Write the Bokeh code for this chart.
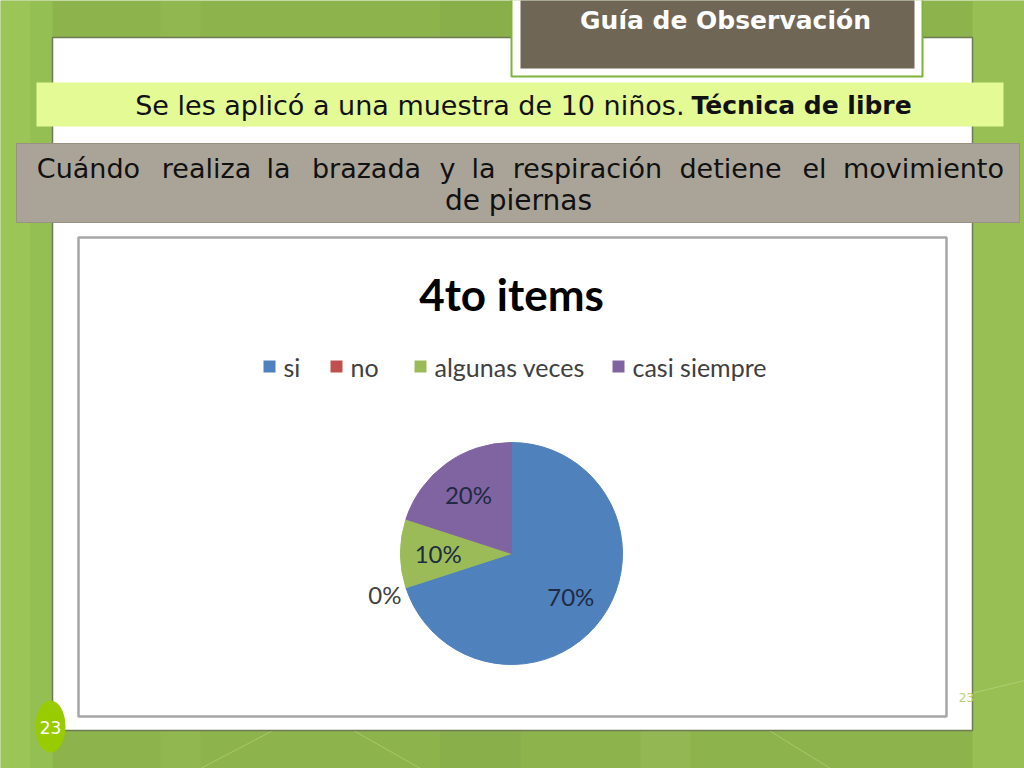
import math
from bokeh.plotting import figure
from bokeh.models import Range1d
from bokeh.core.properties import value
from bokeh.embed import file_html
from bokeh.resources import INLINE

# ---- data ----
categories = ["si", "no", "algunas veces", "casi siempre"]
percent = [70, 0, 10, 20]
colors = ["#4f81bd", "#c0504d", "#9bbb59", "#8064a2"]
chart_title = "4to items"
header = "Guía de Observación"
intro_normal = "Se les aplicó a una muestra de 10 niños."
intro_bold = "Técnica de libre"
question_words = ["Cuándo", "realiza", "la", "brazada", "y", "la", "respiración", "detiene", "el", "movimiento"]
question_word_x = [88, 206, 278, 366, 447, 483, 587, 730, 814, 923]
question_line2 = "de piernas"
slide_no = "23"

H = 768
def Y(y):
    return H - y

p = figure(width=1024, height=768, x_range=Range1d(0, 1024), y_range=Range1d(0, 768),
           output_backend="svg", toolbar_location=None, min_border=0)
p.axis.visible = False
p.grid.visible = False
p.outline_line_color = None
p.background_fill_color = "#8db34c"
p.border_fill_color = "#8db34c"

# background decoration (lighter / darker bands)
bands = [(0, 30, "#a6d160", 0.6), (30, 52, "#9ccb58", 0.5), (972, 1024, "#a2cc5c", 0.5),
         (160, 200, "#9fc65c", 0.25), (440, 520, "#7fa543", 0.25), (640, 690, "#a6c966", 0.25)]
for x0, x1, c, a in bands:
    p.quad(left=[x0], right=[x1], bottom=[0], top=[H], fill_color=c, fill_alpha=a, line_color=None)
for (x0, y0, x1, y1) in [(200, 768, 330, 700), (300, 700, 420, 768), (720, 700, 830, 768), (860, 720, 1024, 680)]:
    p.line([x0, x1], [Y(y0), Y(y1)], line_color="#c4df8e", line_alpha=0.5, line_width=1)

# white slide panel
p.quad(left=[52], right=[972], bottom=[Y(730)], top=[Y(37)], fill_color="white",
       line_color="#6d7a55", line_width=1.5)

# header box
p.quad(left=[511], right=[922], bottom=[Y(76)], top=[Y(-5)], fill_color="white",
       line_color="#7fb33a", line_width=2)
p.quad(left=[520], right=[914], bottom=[Y(68)], top=[Y(-5)], fill_color="#6f6656", line_color=None)

def T(x, y, text, size, color="#000000", bold=False, align="center", font="DejaVu Sans", baseline="middle"):
    p.text(x=[x], y=[Y(y)], text=[text], text_font=value(font), text_font_size=f"{size}px",
           text_color=color, text_font_style="bold" if bold else "normal",
           text_align=align, text_baseline=baseline)

T(725, 20, header, 25, "white", bold=True)

# intro bar
p.quad(left=[36], right=[1003], bottom=[Y(126)], top=[Y(82)], fill_color="#e4fa95", line_color=None)
T(684, 105, intro_normal, 27, "#111111", align="right")
T(691, 105, intro_bold, 25, "#111111", bold=True, align="left")

# question bar
p.quad(left=[16], right=[1019], bottom=[Y(222)], top=[Y(143)], fill_color="#aaa498", line_color="#999184")
for wx, w in zip(question_word_x, question_words):
    T(wx, 168, w, 27, "#111111")
T(518, 200, question_line2, 28, "#111111")

# chart image frame
p.quad(left=[78], right=[946], bottom=[Y(716)], top=[Y(237)], fill_color="white",
       line_color="#a6a6a6", line_width=2.5)
T(511, 293, chart_title, 44, "#000000", bold=True, font="Lato")

# legend
leg_x = [263, 330, 414, 612]
for lx, c, name in zip(leg_x, colors, categories):
    p.quad(left=[lx], right=[lx + 12], bottom=[Y(372)], top=[Y(360)], fill_color=c, line_color=None)
    T(lx + 20, 366, name, 25, "#404040", align="left", font="Lato")

# pie
cx, cy, r = 511, 553, 111
total = sum(percent)
cum = 0.0
for val, c in zip(percent, colors):
    a0 = math.pi / 2 - 2 * math.pi * cum / total
    cum += val
    a1 = math.pi / 2 - 2 * math.pi * cum / total
    if val > 0:
        p.wedge(x=[cx], y=[Y(cy)], radius=r, start_angle=a0, end_angle=a1, direction="clock",
                fill_color=c, line_color=c)
cum = 0.0
for val in percent:
    mid = (cum + val / 2) / total
    cum += val
    ang = math.pi / 2 - 2 * math.pi * mid
    rr = r * (0.66 if val > 0 else 1.2)
    T(cx + rr * math.cos(ang), cy - rr * math.sin(ang), f"{val}%", 24,
      "#1f2a44" if val > 0 else "#404040", font="Lato")

# slide number
p.ellipse(x=[50], y=[Y(726)], width=30, height=52, fill_color="#99cc00", line_color=None)
T(50, 727, slide_no, 17, "white")
T(966, 697, slide_no, 12, "#b5d86d")

html = file_html(p, INLINE)
html = html.replace("<body>", '<body style="background:#8db34c">', 1)
open("out.html", "w").write(html)
